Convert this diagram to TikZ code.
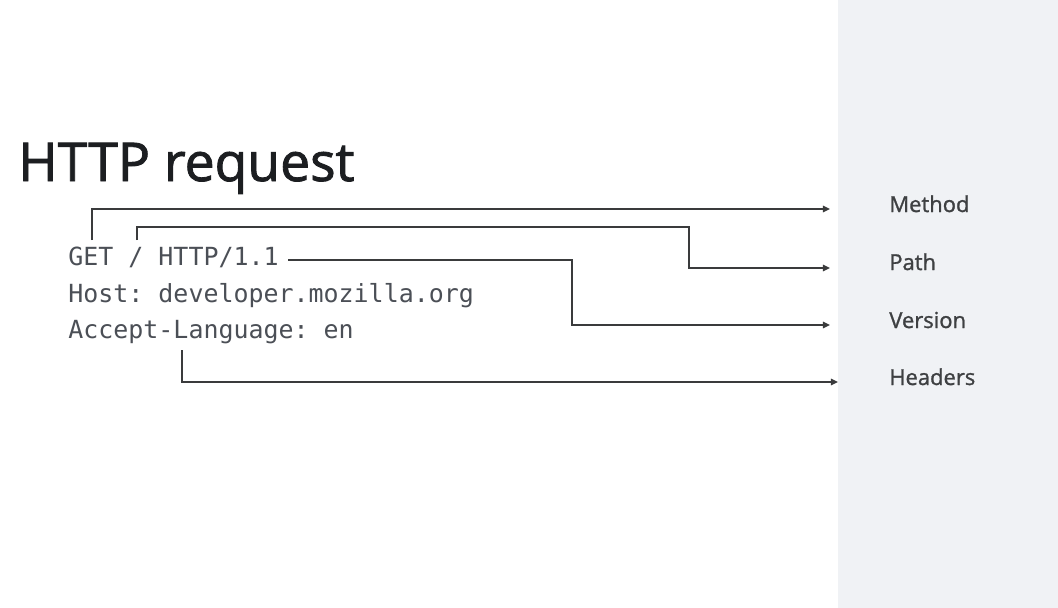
\documentclass[tikz,border=0pt]{standalone}
\usepackage{fontspec}
\setmainfont{Open Sans}
\setmonofont{DejaVu Sans Mono}
\newfontfamily\headfont[FakeBold=1.6]{Open Sans}
\newfontfamily\labelfont[FakeBold=1.2]{Open Sans}
\usetikzlibrary{arrows.meta}
\definecolor{panelgray}{HTML}{F0F2F5}
\definecolor{inkdark}{HTML}{1C1E21}
\definecolor{codegray}{HTML}{4B4F56}
\definecolor{wiregray}{HTML}{3A3B3C}

\begin{document}
\begin{tikzpicture}[x=0.02cm,y=-0.02cm,
  codeline/.style={anchor=base west,inner sep=0,text=codegray,font=\ttfamily\fontsize{14.2}{17}\selectfont},
  partlabel/.style={anchor=base west,inner sep=0,text=inkdark!85,font=\labelfont\fontsize{12.5}{15}\selectfont},
  wire/.style={draw=wiregray,line width=1.1pt,-{Triangle[length=4pt,width=3.6pt]}}]
% background and side panel
\fill[white] (0,0) rectangle (1058,608);
\fill[panelgray] (838,0) rectangle (1058,608);
\useasboundingbox (0,0) rectangle (1058,608);

% title and request text
\node[anchor=base west,inner sep=0,text=inkdark,font=\headfont\fontsize{30.4}{36}\selectfont] (title) at (18,181) {HTTP request};
\node[codeline] (reqline) at (68,265) {GET / HTTP/1.1};
\node[codeline] (hostline) at (68,302) {Host: developer.mozilla.org};
\node[codeline] (langline) at (68,338) {Accept-Language: en};

% labels in the panel
\node[partlabel] (method) at (889,212) {Method};
\node[partlabel] (path) at (889,270) {Path};
\node[partlabel] (version) at (889,328) {Version};
\node[partlabel] (headers) at (889,385) {Headers};

% connector ends
\coordinate (getpt) at (92,240);
\coordinate (slashpt) at (137,240);
\coordinate (verpt) at (288,260);
\coordinate (hdrpt) at (182,350);
\coordinate (methodtip) at (830,209);
\coordinate (pathtip) at (830,268);
\coordinate (versiontip) at (830,325);
\coordinate (headerstip) at (838,382);

\draw[wire] (getpt) |- (methodtip);
\draw[wire] (slashpt) |- (689,227) |- (pathtip);
\draw[wire] (verpt) -| (572,292) |- (versiontip);
\draw[wire] (hdrpt) |- (headerstip);
\end{tikzpicture}
\end{document}
